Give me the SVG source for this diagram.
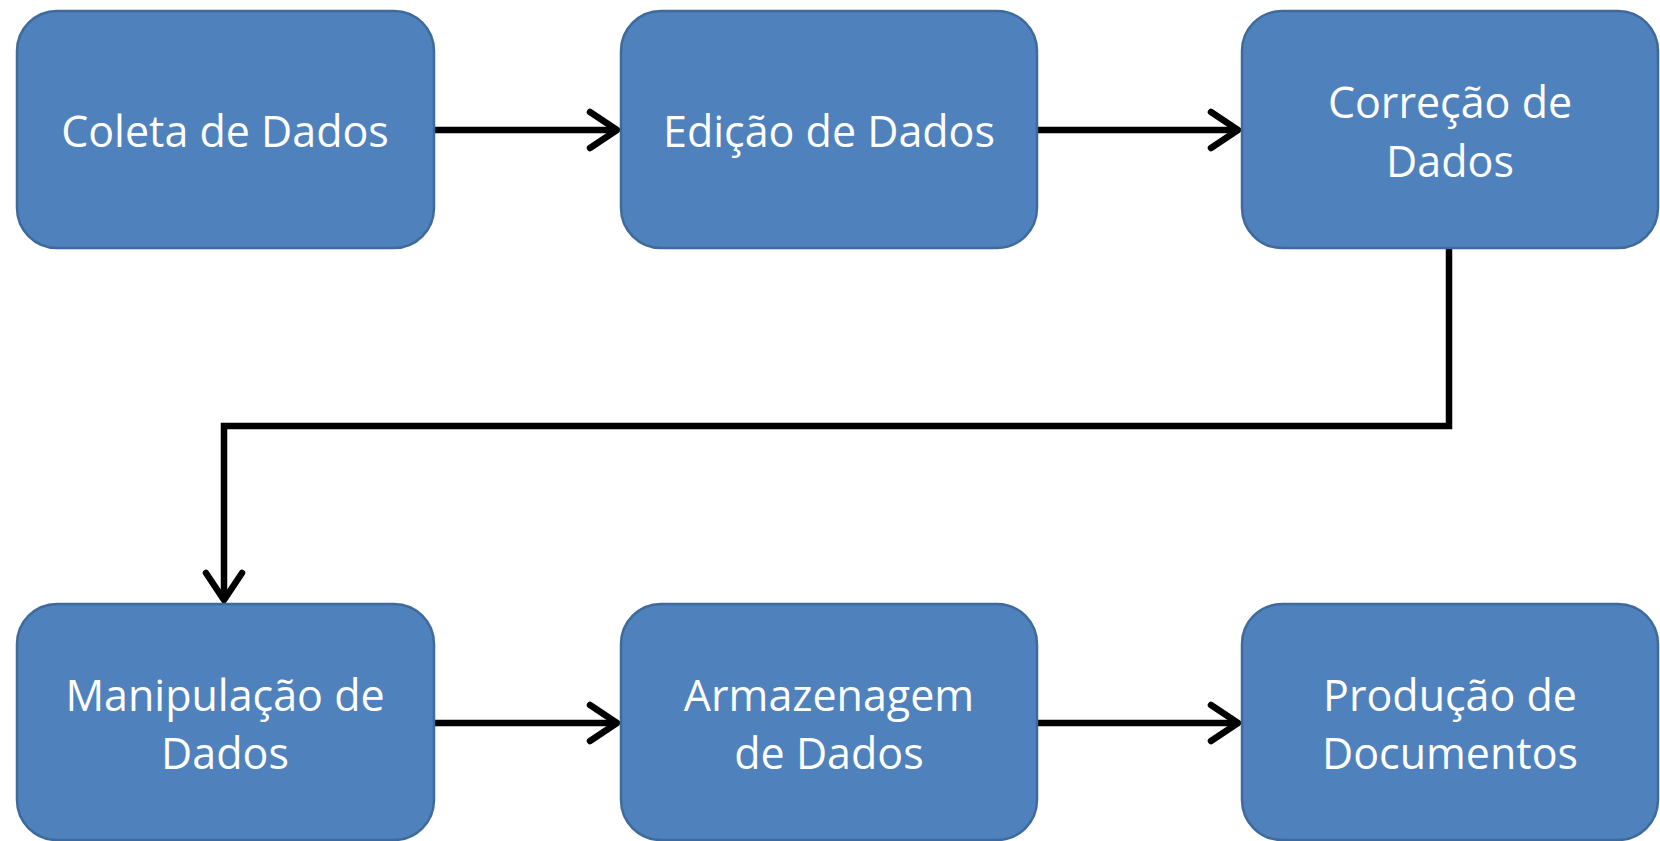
<svg xmlns="http://www.w3.org/2000/svg" width="1660" height="841" viewBox="0 0 1660 841">
<style>
.box{fill:#4F81BD;stroke:#3F6A9C;stroke-width:2.5}
.lbl{font-family:"Open Sans","Noto Sans","Liberation Sans",sans-serif;font-size:43px;fill:#FFFFFF;text-anchor:middle}
.con{fill:none;stroke:#000000;stroke-width:6.5;stroke-linejoin:miter}
.head{fill:none;stroke:#000000;stroke-width:6.5;stroke-linecap:round;stroke-linejoin:round}
</style>
<rect width="1660" height="841" fill="#FFFFFF"/>
<g id="connectors">
<line class="con" x1="434" y1="130" x2="616" y2="130"/>
<polyline class="head" points="590,112 617,130 590,148"/>
<line class="con" x1="1037" y1="130" x2="1237" y2="130"/>
<polyline class="head" points="1211,112 1238,130 1211,148"/>
<polyline class="con" points="1449,248 1449,426 224,426 224,599"/>
<polyline class="head" points="206,573 224,600 242,573"/>
<line class="con" x1="434" y1="723" x2="616" y2="723"/>
<polyline class="head" points="590,705 617,723 590,741"/>
<line class="con" x1="1037" y1="723" x2="1237" y2="723"/>
<polyline class="head" points="1211,705 1238,723 1211,741"/>
</g>
<g id="coleta">
<rect class="box" x="17" y="11" width="417" height="237" rx="40"/>
<text class="lbl" x="225" y="147">Coleta de Dados</text>
</g>
<g id="edicao">
<rect class="box" x="621" y="11" width="416" height="237" rx="40"/>
<text class="lbl" x="829" y="147">Edição de Dados</text>
</g>
<g id="correcao">
<rect class="box" x="1242" y="11" width="416" height="237" rx="40"/>
<text class="lbl" x="1450" y="118">Correção de</text>
<text class="lbl" x="1450" y="177">Dados</text>
</g>
<g id="manipulacao">
<rect class="box" x="17" y="604" width="417" height="236" rx="40"/>
<text class="lbl" x="225" y="711">Manipulação de</text>
<text class="lbl" x="225" y="769">Dados</text>
</g>
<g id="armazenagem">
<rect class="box" x="621" y="604" width="416" height="236" rx="40"/>
<text class="lbl" x="829" y="711">Armazenagem</text>
<text class="lbl" x="829" y="769">de Dados</text>
</g>
<g id="producao">
<rect class="box" x="1242" y="604" width="416" height="236" rx="40"/>
<text class="lbl" x="1450" y="711">Produção de</text>
<text class="lbl" x="1450" y="769">Documentos</text>
</g>
</svg>
